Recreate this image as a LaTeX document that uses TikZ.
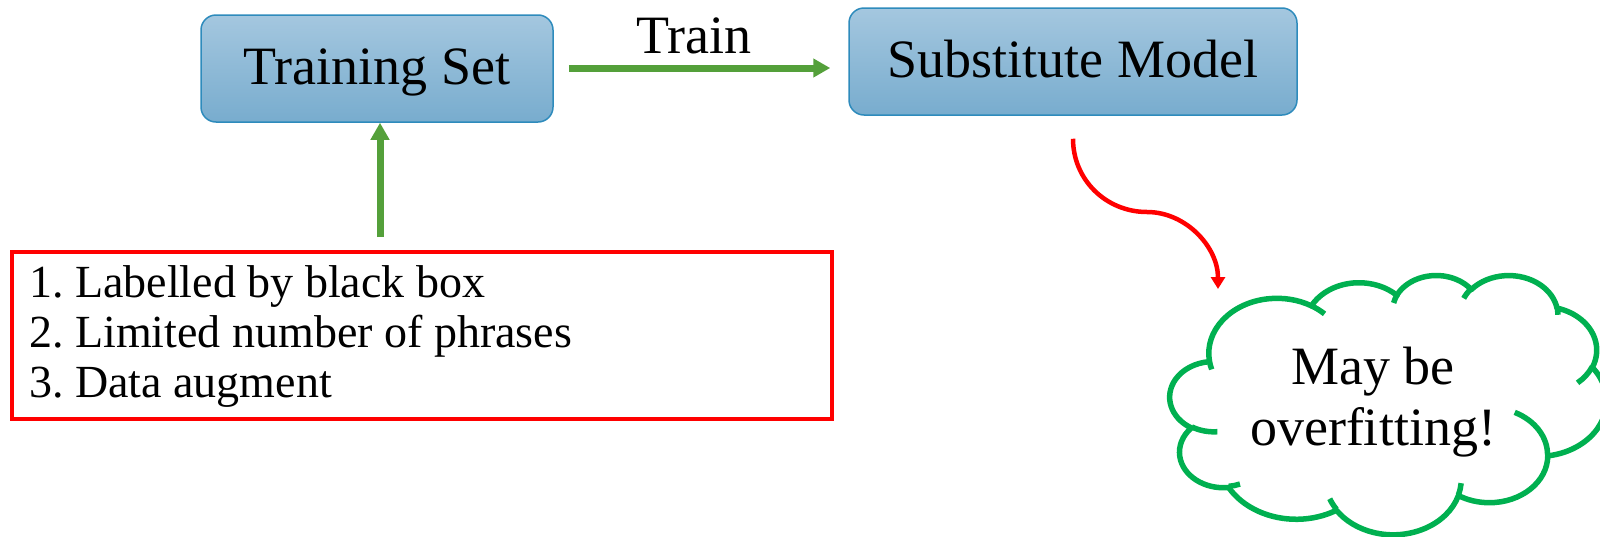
\documentclass[tikz,border=0pt]{standalone}
\usepackage{fontspec}
\setmainfont{Liberation Serif}
\usetikzlibrary{arrows.meta,calc}
\frenchspacing

\definecolor{boxtop}{RGB}{164,199,223}
\definecolor{boxbot}{RGB}{120,172,206}
\definecolor{boxedge}{RGB}{46,139,188}
\definecolor{arrowgreen}{RGB}{84,160,58}
\definecolor{cloudgreen}{RGB}{0,176,80}
\definecolor{alertred}{RGB}{255,0,0}

% Elliptic arc given as in DrawingML: radii, start angle and sweep, where the
% angles are the visible (not parametric) angles on the ellipse.
\newcommand\ooxdef[5]{%
  \pgfmathsetmacro\ooxta{atan2((#2)*sin(#4),(#3)*cos(#4))}%
  \pgfmathsetmacro\ooxtb{atan2((#2)*sin(#4+#5),(#3)*cos(#4+#5))}%
  \pgfmathsetmacro\ooxtd{(\ooxtb)-(\ooxta)}%
  \pgfmathsetmacro\ooxtd{\ooxtd<0 ? \ooxtd+360 : \ooxtd}%
  \expandafter\xdef\csname oox#1s\endcsname{\ooxta}%
  \expandafter\xdef\csname oox#1d\endcsname{\ooxtd}%
  \expandafter\xdef\csname oox#1w\endcsname{#2}%
  \expandafter\xdef\csname oox#1h\endcsname{#3}%
}
\newcommand\ooxarc[1]{arc[start angle=\csname oox#1s\endcsname,
  delta angle=\csname oox#1d\endcsname,
  x radius=\csname oox#1w\endcsname, y radius=\csname oox#1h\endcsname]}

\begin{document}
\begin{tikzpicture}[x=1pt,y=-1pt,
  stagebox/.style={draw=boxedge, line width=1.5pt, rounded corners=15pt,
    top color=boxtop, bottom color=boxbot, inner sep=0pt,
    minimum height=107pt, text height=36pt, text depth=5pt,
    font=\fontsize{54}{62}\selectfont},
  bigtext/.style={inner sep=0pt, font=\fontsize{54}{62}\selectfont},
  listtext/.style={inner sep=0pt, anchor=base west, font=\fontsize{46}{50}\selectfont},
  garrow/.style={draw=arrowgreen, line width=7pt,
    -{Triangle[width=18pt,length=17pt]}},
  rarrow/.style={draw=alertred, line width=4.5pt,
    -{Triangle[width=14pt,length=12pt]}},
  cloudline/.style={draw=cloudgreen, line width=5.5pt}]

\useasboundingbox (0,0) rectangle (1600,536);

% the two stages
\node[stagebox, minimum width=352pt] (ts) at (377,68.5) {Training Set};
\node[stagebox, minimum width=448pt] (sm) at (1073,61.5) {Substitute Model};

% training arrow with its label
\draw[garrow] ($(ts.east)+(15,-0.5)$) -- ($(sm.west |- ts.east)+(-18,-0.5)$)
  node[bigtext, pos=0.48, anchor=base, yshift=15pt] (tl) {Train};

% properties of the training data
\node[draw=alertred, line width=3.3pt, minimum width=820pt, minimum height=167pt,
  inner sep=0pt] (rb) at (422,335.5) {};
\node[listtext] (l1) at (29,297) {1. Labelled by black box};
\node[listtext] (l2) at (29,347) {2. Limited number of phrases};
\node[listtext] (l3) at (29,397) {3. Data augment};

\coordinate (ua) at (380,237);
\draw[garrow] (ua) -- (ua |- ts.south);

% cloud outline (11 lobes) and its inner strokes
\ooxdef{A}{67.53}{91.90}{-190.48748}{123.78053}
\ooxdef{B}{53.33}{72.67}{-144.10238}{89.94523}
\ooxdef{C}{43.65}{59.45}{-145.80792}{99.72302}
\ooxdef{D}{48.57}{65.95}{-130.98607}{117.24173}
\ooxdef{E}{53.33}{72.73}{-78.70888}{109.02692}
\ooxdef{F}{67.75}{92.20}{-46.26725}{130.269}
\ooxdef{G}{57.85}{78.67}{0.62502}{114.03333}
\ooxdef{H}{67.52}{92.15}{22.4516}{115.17255}
\ooxdef{I}{77.20}{105.43}{66.24263}{75.71102}
\ooxdef{J}{43.60}{59.18}{-274.94208}{146.73557}
\ooxdef{K}{43.45}{59.45}{-246.8285}{152.51885}
\ooxdef{a}{43.45}{59.45}{86.742}{26.4295}
\ooxdef{b}{43.60}{59.18}{73.61047}{11.44747}
\ooxdef{c}{67.52}{92.15}{137.62415}{14.0811}
\ooxdef{d}{67.52}{92.15}{6.45327}{15.99835}
\ooxdef{e}{57.85}{78.67}{-70.29235}{70.91737}
\ooxdef{f}{53.33}{72.73}{30.31803}{27.7515}
\ooxdef{g}{48.57}{65.95}{-13.74433}{14.8589}
\ooxdef{h}{48.57}{65.95}{-149.18145}{18.19537}
\ooxdef{i}{43.65}{59.45}{-163.49427}{17.68635}
\ooxdef{j}{67.53}{91.90}{-66.70695}{12.31935}
\ooxdef{k}{67.53}{91.90}{157.65435}{11.85817}

\begin{scope}[shift={(1170,274.65)}, x=1.01pt, y=-0.6pt]
  \draw[cloudline, line join=round] (39.00,143.70)
    \ooxarc{A} \ooxarc{B} \ooxarc{C} \ooxarc{D} \ooxarc{E} \ooxarc{F}
    \ooxarc{G} \ooxarc{H} \ooxarc{I} \ooxarc{J} \ooxarc{K} -- cycle;
  \draw[cloudline]
    (46.93,261.77) \ooxarc{a}
    (69.28,348.99) \ooxarc{b}
    (164.78,390.90) \ooxarc{c}
    (288.27,347.51) \ooxarc{d}
    (341.29,229.54) \ooxarc{e}
    (417.98,153.54) \ooxarc{f}
    (383.24,54.26) \ooxarc{g}
    (290.78,39.52) \ooxarc{h}
    (221.41,47.20) \ooxarc{i}
    (140.00,51.92) \ooxarc{j}
    (41.27,157.89) \ooxarc{k};
\end{scope}

\node[bigtext, anchor=base] (c1) at (1373,384) {May be};
\node[bigtext, anchor=base] (c2) at (1373,445) {overfitting!};

% warning arrow from the model to the cloud
\coordinate (rs) at ($(sm.south)+(0,23)$);
\coordinate (rm) at (1147,212);
\coordinate (re) at (1218,289);
\draw[rarrow] (rs) .. controls +(0,41) and +(-41,0) .. (rm)
  .. controls +(39,0) and +(0,-42) .. (re);

\end{tikzpicture}
\end{document}
